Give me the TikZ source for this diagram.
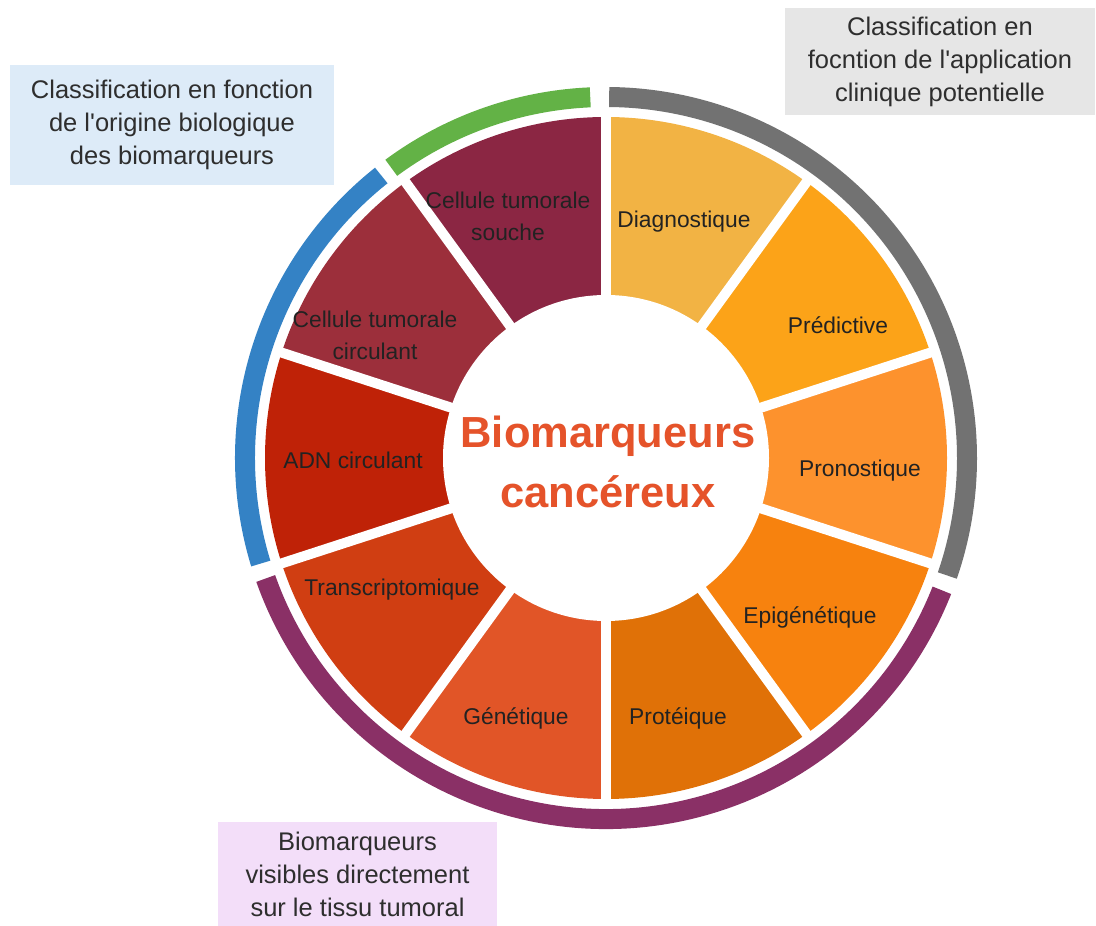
\documentclass[tikz,border=0pt]{standalone}
\usepackage{fontspec}
\setmainfont{Liberation Sans}
\definecolor{cDiag}{HTML}{F2B344}
\definecolor{cPred}{HTML}{FCA318}
\definecolor{cPron}{HTML}{FD922D}
\definecolor{cEpi}{HTML}{F7820E}
\definecolor{cProt}{HTML}{E07107}
\definecolor{cGen}{HTML}{E15527}
\definecolor{cTrans}{HTML}{D03E12}
\definecolor{cADN}{HTML}{BF2207}
\definecolor{cCirc}{HTML}{9C2F3B}
\definecolor{cSouche}{HTML}{8B2643}
\definecolor{cTitle}{HTML}{E5532A}
\definecolor{aGreen}{HTML}{63B246}
\definecolor{aBlue}{HTML}{3482C5}
\definecolor{aPurple}{HTML}{8A3066}
\definecolor{aGray}{HTML}{727272}
\definecolor{bBlue}{HTML}{DDEBF8}
\definecolor{bGray}{HTML}{E6E6E6}
\definecolor{bPink}{HTML}{F3DEF9}
\definecolor{tSeg}{HTML}{222222}
\definecolor{tBox}{HTML}{2E2E2E}
\begin{document}
\begin{tikzpicture}[x=1pt,y=1pt,
  seglabel/.style={align=center,text=tSeg,font=\fontsize{22.8}{32}\selectfont,inner sep=0pt},
  boxlabel/.style={align=center,text=tBox,font=\fontsize{25.5}{33}\selectfont,inner sep=0pt},
  outerarc/.style={line width=20pt,line cap=butt},
  gapline/.style={white,line width=10pt}]
\useasboundingbox (0,0) rectangle (1096,926);
\coordinate (O) at (606,468);
% sectors
\foreach \sa/\ea/\col in {54/90/cDiag,18/54/cPred,-18/18/cPron,-54/-18/cEpi,-90/-54/cProt,-126/-90/cGen,-162/-126/cTrans,162/198/cADN,126/162/cCirc,90/126/cSouche}{
  \fill[\col] (O) -- ++(\sa:341) arc[start angle=\sa, end angle=\ea, radius=341] -- cycle;
}
% white gaps
\foreach \g in {18,54,90,126,162,198,234,270,306,342}{
  \draw[gapline] (O) -- ++(\g:350);
}
\fill[white] (O) circle[radius=163];
% outer arcs
\draw[outerarc,aGreen] (O) ++(92.5:361) arc[start angle=92.5, end angle=126.5, radius=361];
\draw[outerarc,aBlue] (O) ++(128.5:361) arc[start angle=128.5, end angle=197, radius=361];
\draw[outerarc,aPurple] (O) ++(199.5:361) arc[start angle=199.5, end angle=338.5, radius=361];
\draw[outerarc,aGray] (O) ++(341:361) arc[start angle=341, end angle=449.5, radius=361];
% segment labels
\node[seglabel] (diag) at (684,704) {Diagnostique};
\node[seglabel] (pred) at (838,601) {Prédictive};
\node[seglabel] (pron) at (860,455) {Pronostique};
\node[seglabel] (epi) at (810,309) {Epigénétique};
\node[seglabel] (prot) at (678,208) {Protéique};
\node[seglabel] (gen) at (516,208) {Génétique};
\node[seglabel] (trans) at (392,336) {Transcriptomique};
\node[seglabel] (adn) at (353,466) {ADN circulant};
\node[seglabel] (circ) at (375,591) {Cellule tumorale\\circulant};
\node[seglabel] (souche) at (508,710) {Cellule tumorale\\souche};
% centre
\node[align=center,text=cTitle,font=\bfseries\fontsize{43.5}{60}\selectfont,inner sep=0pt] (title) at (608,464) {Biomarqueurs\\cancéreux};
% boxes
\node[fill=bBlue,minimum width=324pt,minimum height=120pt,inner sep=0pt] (boxbio) at (172,801) {};
\node[boxlabel] (txtbio) at (boxbio.center) {Classification en fonction\\de l\textquotesingle origine biologique\\des biomarqueurs};
\node[fill=bGray,minimum width=310pt,minimum height=107pt,inner sep=0pt] (boxcli) at (940,864.5) {};
\node[boxlabel] (txtcli) at (boxcli.center) {Classification en\\focntion de l\textquotesingle application\\clinique potentielle};
\node[fill=bPink,minimum width=279pt,minimum height=104pt,inner sep=0pt] (boxtis) at (357.5,52) {};
\node[boxlabel] (txttis) at (boxtis.center) {Biomarqueurs\\visibles directement\\sur le tissu tumoral};
\end{tikzpicture}
\end{document}
